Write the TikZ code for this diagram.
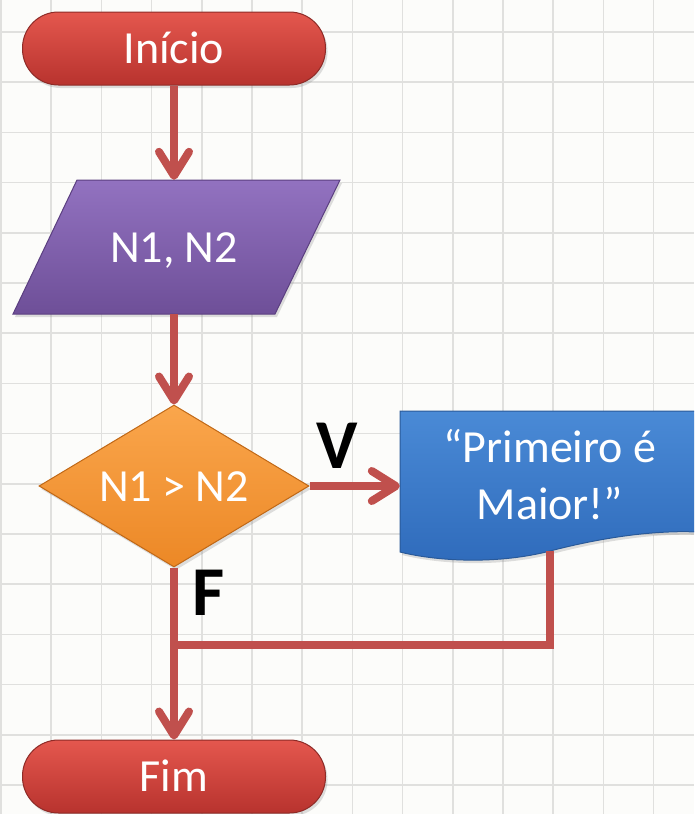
\documentclass[tikz,border=0pt]{standalone}
\usepackage{fontspec}
\setmainfont{Carlito}
\usetikzlibrary{arrows.meta,shapes.geometric,shadows}
\definecolor{bgc}{HTML}{FCFCFA}
\definecolor{gridc}{HTML}{E0E0DE}
\definecolor{arrowc}{HTML}{C0504D}
\definecolor{termtop}{HTML}{E4574E}
\definecolor{termbot}{HTML}{B8332E}
\definecolor{termedge}{HTML}{8E2B27}
\definecolor{purtop}{HTML}{9272C0}
\definecolor{purbot}{HTML}{6E4F98}
\definecolor{puredge}{HTML}{5B3F80}
\definecolor{ortop}{HTML}{FAA64C}
\definecolor{orbot}{HTML}{EC8826}
\definecolor{oredge}{HTML}{C06816}
\definecolor{bltop}{HTML}{4A8AD6}
\definecolor{blbot}{HTML}{2F6BBB}
\definecolor{bledge}{HTML}{2A5A99}
\begin{document}
\begin{tikzpicture}[x=1pt,y=-1pt,
  conn/.style={draw=arrowc, line width=8pt},
  arr/.style={conn, -{Straight Barb[length=24pt,width=30pt,round]}},
  shd/.style={drop shadow={opacity=0.25, shadow xshift=2pt, shadow yshift=-3pt}},
  bigtxt/.style={text=white, font=\fontsize{46}{57}\selectfont},
  terminal/.style={rectangle, rounded corners=36pt, minimum width=303pt,
    minimum height=73pt, inner sep=0pt, top color=termtop, bottom color=termbot,
    draw=termedge, line width=1pt, bigtxt, text height=30pt, text depth=0pt, shd},
  decision/.style={diamond, shape aspect=1.667, minimum width=270pt, minimum height=162pt, inner sep=0pt,
    top color=ortop, bottom color=orbot, draw=oredge, line width=1pt, bigtxt,
    text height=30pt, text depth=0pt, shd},
  anchorbox/.style={rectangle, inner sep=0pt},
  label/.style={font=\fontsize{70}{80}\selectfont\bfseries, text=black, anchor=base, inner sep=0pt}
]
\useasboundingbox (0,0) rectangle (694,814);
\clip (0,0) rectangle (694,814);
\fill[bgc] (0,0) rectangle (694,814);
% grid
\foreach \i in {0,...,13} {\draw[gridc, line width=1.5pt] ({1+50.2*\i},0) -- ({1+50.2*\i},814);}
\foreach \j in {0,...,15} {\draw[gridc, line width=1.5pt] (0,{32+50.2*\j}) -- (694,{32+50.2*\j});}

% start
\node[terminal] (inicio) at (174,48.5) {Início};

% input parallelogram
\path[top color=purtop, bottom color=purbot, draw=puredge, line width=1pt, shd]
  (77,180) -- (340,180) -- (275,314) -- (13,314) -- cycle;
\node[anchorbox, bigtxt, minimum width=200pt, minimum height=134pt, text height=30pt, text depth=0pt] (input) at (174,247) {N1, N2};

% decision
\node[decision] (dec) at (174,486) {N1 > N2};

% document
\path[top color=bltop, bottom color=blbot, draw=bledge, line width=1pt, shd]
  (400,411) -- (712,411) -- (712,533)
  .. controls (660,528) and (600,538) .. (550,551)
  .. controls (500,564) and (440,562) .. (400,552) -- cycle;
\node[anchorbox, minimum width=312pt, minimum height=141pt] (doc) at (556,481.5) {};
\node[bigtxt, align=center, inner sep=0pt] (doctxt) at (550,475) {“Primeiro é\\Maior!”};
\coordinate (docb) at (550,551);

% end
\node[terminal] (fim) at (174,776.5) {Fim};

% connectors
\coordinate (join) at (174,645);
\draw[arr] (inicio.south) -- (input.north);
\draw[arr] (input.south) -- (dec.north);
\draw[arr] (dec.east) -- (dec.east -| doc.west);
\draw[arr] (dec.south) -- (fim.north);
\draw[conn] (docb) |- (join);

% labels
\node[label] (vlab) at (337,468) {V};
\node[label] (flab) at (209,615) {F};
\end{tikzpicture}
\end{document}
